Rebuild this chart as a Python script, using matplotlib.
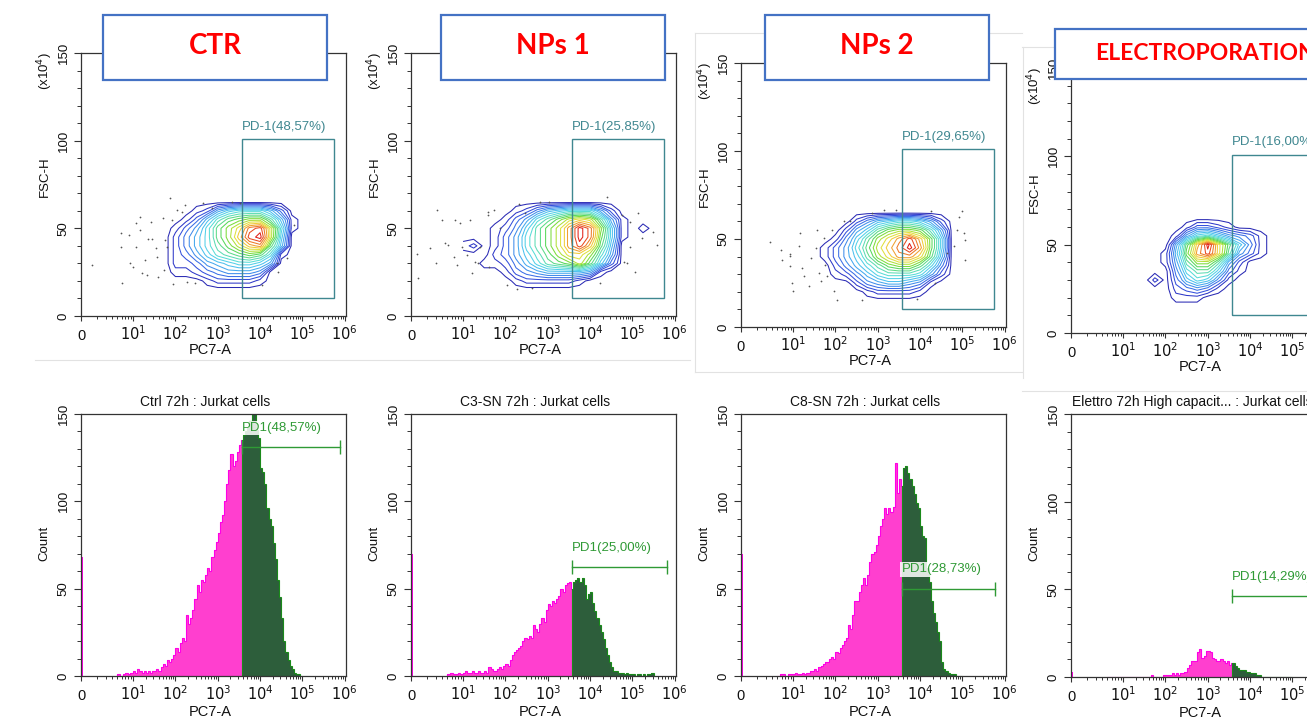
import numpy as np
import matplotlib
matplotlib.use("Agg")
import matplotlib.pyplot as plt
from matplotlib.patches import Rectangle
from matplotlib.lines import Line2D

plt.rcParams['font.family'] = ['Liberation Sans', 'DejaVu Sans']
plt.rcParams['mathtext.fontset'] = 'custom'
plt.rcParams['mathtext.rm'] = 'Liberation Sans Narrow'
plt.rcParams['mathtext.it'] = 'Liberation Sans Narrow:italic'
plt.rcParams['mathtext.bf'] = 'Liberation Sans Narrow:bold'
plt.rcParams['mathtext.default'] = 'rm'
NARROW = ['Liberation Sans Narrow', 'Liberation Sans']

# ---------------------------------------------------------------- data
PANEL_TITLES = ['CTR', 'NPs 1', 'NPs 2', 'ELECTROPORATION']
HIST_TITLES = ['Ctrl 72h : Jurkat cells', 'C3-SN 72h : Jurkat cells',
               'C8-SN 72h : Jurkat cells', 'Elettro 72h High capacit... : Jurkat cells']
DOT_GATE_LABELS = ['PD-1(48,57%)', 'PD-1(25,85%)', 'PD-1(29,65%)', 'PD-1(16,00%)']
HIST_GATE_LABELS = ['PD1(48,57%)', 'PD1(25,00%)', 'PD1(28,73%)', 'PD1(14,29%)']

X_TICK_VALUES = [1, 10, 100, 1e3, 1e4, 1e5, 1e6]
X_TICK_LABELS = ['0', '$10^1$', '$10^2$', '$10^3$', '$10^4$', '$10^5$', '$10^6$']
Y_TICK_VALUES = [0, 50, 100, 150]

# gates
GATE_LO = 3700
DOT_GATE_HI = 5.6e5
DOT_GATE_FSC = [10, 101]
HIST_GATE_HI = [7.6e5, 6.6e5, 5.8e5, 5.8e5]
HIST_GATE_COUNT = [131, 62.5, 50, 46]

# density (contour level read at grid points) : rows = FSC (x10^4), cols = log10(PC7-A)
DENSITY_LOG_PC7 = [1.0, 1.25, 1.5, 1.75, 2.0, 2.25, 2.5, 2.75, 3.0, 3.25,
                   3.5, 3.75, 4.0, 4.25, 4.5, 4.75, 5.0, 5.25, 5.5, 5.75]
DENSITY_FSC = [10, 15, 20, 25, 30, 35, 40, 45, 50, 55, 60, 65, 70]

DENSITY_CTR = [
    [0, 0, 0, 0, 0, 0, 0, 0, 0, 0, 0, 0, 0, 0, 0, 0, 0, 0, 0, 0],
    [0, 0, 0, 0, 0, 0, 0, 0, 0, 0, 0, 0, 0, 0, 0, 0, 0, 0, 0, 0],
    [0, 0, 0, 0, 0, 0, 0, 1, 2, 2, 2, 2, 1, 0, 0, 0, 0, 0, 0, 0],
    [0, 0, 0, 0, 1, 1, 2, 3, 4, 5, 5, 5, 4, 0, 0, 0, 0, 0, 0, 0],
    [0, 0, 0, 0, 2, 2, 3, 5, 6, 7, 8, 8, 7, 5, 0, 0, 0, 0, 0, 0],
    [0, 0, 0, 0, 2, 3, 5, 7, 9, 10, 11, 12, 11, 8, 1, 0, 0, 0, 0, 0],
    [0, 0, 0, 0, 2, 4, 6, 8, 10, 12, 14, 16, 17, 11, 6, 0, 0, 0, 0, 0],
    [0, 0, 0, 0, 2, 4, 6, 8, 11, 13, 16, 19, 20, 14, 7, 0, 0, 0, 0, 0],
    [0, 0, 0, 0, 1, 3, 5, 8, 11, 13, 15, 18, 19, 14, 8, 1, 0, 0, 0, 0],
    [0, 0, 0, 0, 0, 1, 3, 6, 9, 11, 12, 13, 13, 10, 6, 1, 0, 0, 0, 0],
    [0, 0, 0, 0, 0, 0, 1, 2, 5, 7, 8, 8, 8, 6, 3, 0, 0, 0, 0, 0],
    [0, 0, 0, 0, 0, 0, 0, 0, 0, 0, 0, 0, 0, 0, 0, 0, 0, 0, 0, 0],
    [0, 0, 0, 0, 0, 0, 0, 0, 0, 0, 0, 0, 0, 0, 0, 0, 0, 0, 0, 0],
]
DENSITY_NP1 = [
    [0, 0, 0, 0, 0, 0, 0, 0, 0, 0, 0, 0, 0, 0, 0, 0, 0, 0, 0, 0],
    [0, 0, 0, 0, 0, 0, 0, 0, 0, 0, 0, 0, 0, 0, 0, 0, 0, 0, 0, 0],
    [0, 0, 0, 0, 0, 1, 2, 2, 2, 2, 2, 1, 0, 0, 0, 0, 0, 0, 0, 0],
    [0, 0, 0, 0, 1, 3, 4, 5, 6, 6, 6, 6, 5, 1, 0, 0, 0, 0, 0, 0],
    [0, 0, 1, 1, 2, 4, 6, 8, 10, 11, 12, 14, 11, 7, 3, 0, 0, 0, 0, 0],
    [0, 0, 0, 2, 3, 5, 7, 9, 11, 13, 15, 15, 13, 9, 5, 0, 0, 0, 0, 0],
    [1, 2, 0, 1, 3, 5, 8, 10, 12, 14, 17, 19, 16, 11, 6, 0, 0, 0, 0, 0],
    [0, 0, 0, 1, 3, 5, 8, 10, 12, 14, 17, 20, 18, 12, 7, 1, 0, 0, 0, 0],
    [0, 0, 0, 1, 2, 4, 7, 10, 12, 14, 17, 20, 18, 13, 7, 1, 0, 1, 0, 0],
    [0, 0, 0, 0, 1, 3, 5, 8, 10, 12, 14, 15, 14, 10, 5, 1, 0, 0, 0, 0],
    [0, 0, 0, 0, 0, 1, 2, 4, 6, 7, 8, 8, 8, 5, 2, 0, 0, 0, 0, 0],
    [0, 0, 0, 0, 0, 0, 0, 0, 0, 0, 0, 0, 0, 0, 0, 0, 0, 0, 0, 0],
    [0, 0, 0, 0, 0, 0, 0, 0, 0, 0, 0, 0, 0, 0, 0, 0, 0, 0, 0, 0],
]
DENSITY_NP2 = [
    [0, 0, 0, 0, 0, 0, 0, 0, 0, 0, 0, 0, 0, 0, 0, 0, 0, 0, 0, 0],
    [0, 0, 0, 0, 0, 0, 0, 0, 0, 0, 0, 0, 0, 0, 0, 0, 0, 0, 0, 0],
    [0, 0, 0, 0, 0, 0, 0, 1, 2, 2, 2, 2, 1, 0, 0, 0, 0, 0, 0, 0],
    [0, 0, 0, 0, 0, 0, 2, 4, 5, 6, 6, 5, 4, 1, 0, 0, 0, 0, 0, 0],
    [0, 0, 0, 0, 1, 2, 4, 6, 8, 9, 9, 9, 8, 5, 2, 0, 0, 0, 0, 0],
    [0, 0, 0, 0, 2, 4, 6, 8, 10, 12, 13, 13, 11, 8, 4, 0, 0, 0, 0, 0],
    [0, 0, 0, 1, 3, 5, 7, 10, 13, 15, 17, 17, 15, 11, 6, 0, 0, 0, 0, 0],
    [0, 0, 0, 1, 3, 5, 8, 11, 14, 16, 18, 20, 17, 12, 7, 0, 0, 0, 0, 0],
    [0, 0, 0, 0, 1, 4, 7, 10, 13, 15, 17, 19, 16, 12, 7, 0, 0, 0, 0, 0],
    [0, 0, 0, 0, 0, 2, 5, 7, 10, 12, 13, 13, 12, 9, 5, 0, 0, 0, 0, 0],
    [0, 0, 0, 0, 0, 0, 2, 4, 6, 7, 8, 8, 7, 5, 2, 0, 0, 0, 0, 0],
    [0, 0, 0, 0, 0, 0, 0, 0, 0, 0, 0, 0, 0, 0, 0, 0, 0, 0, 0, 0],
    [0, 0, 0, 0, 0, 0, 0, 0, 0, 0, 0, 0, 0, 0, 0, 0, 0, 0, 0, 0],
]
DENSITY_EL = [
    [0, 0, 0, 0, 0, 0, 0, 0, 0, 0, 0, 0, 0, 0, 0, 0, 0, 0, 0, 0],
    [0, 0, 0, 0, 0, 0, 0, 0, 0, 0, 0, 0, 0, 0, 0, 0, 0, 0, 0, 0],
    [0, 0, 0, 0, 0, 1, 1, 1, 0, 0, 0, 0, 0, 0, 0, 0, 0, 0, 0, 0],
    [0, 0, 0, 0, 0, 2, 3, 4, 3, 1, 0, 0, 0, 0, 0, 0, 0, 0, 0, 0],
    [0, 0, 0, 2, 0, 3, 6, 8, 7, 4, 1, 0, 0, 0, 0, 0, 0, 0, 0, 0],
    [0, 0, 0, 0, 0, 4, 8, 10, 10, 7, 3, 1, 0, 0, 0, 0, 0, 0, 0, 0],
    [0, 0, 0, 0, 1, 5, 10, 13, 13, 10, 5, 2, 0, 0, 0, 0, 0, 0, 0, 0],
    [0, 0, 0, 0, 1, 6, 12, 17, 19, 15, 10, 5, 3, 1, 0, 0, 0, 0, 0, 0],
    [0, 0, 0, 0, 0, 5, 11, 16, 20, 15, 11, 7, 4, 1, 0, 0, 0, 0, 0, 0],
    [0, 0, 0, 0, 0, 1, 5, 8, 9, 7, 5, 4, 3, 1, 0, 0, 0, 0, 0, 0],
    [0, 0, 0, 0, 0, 0, 1, 3, 3, 2, 1, 0, 0, 0, 0, 0, 0, 0, 0, 0],
    [0, 0, 0, 0, 0, 0, 0, 0, 0, 0, 0, 0, 0, 0, 0, 0, 0, 0, 0, 0],
    [0, 0, 0, 0, 0, 0, 0, 0, 0, 0, 0, 0, 0, 0, 0, 0, 0, 0, 0, 0],
]

# single events outside the contours: log10(PC7-A) and FSC-H (x10^4)
DOTS_CTR_LOGX = [0.21, 0.76, 0.76, 0.78, 0.93, 0.94, 1.01, 1.07, 1.07, 1.17, 1.17, 1.21,
                 1.28, 1.32, 1.36, 1.42, 1.44, 1.54, 1.56, 1.60, 1.70, 1.72, 1.76, 1.80,
                 1.87, 1.91, 1.95, 2.03, 2.15, 2.23, 2.27, 2.47, 2.66, 2.86, 3.33, 3.53,
                 4.04, 4.40, 4.43, 4.63, 4.79]
DOTS_CTR_FSC = [29.1, 47.2, 39.5, 19.0, 46.2, 30.1, 28.1, 39.5, 52.9, 56.6, 49.1, 24.3,
                31.9, 23.4, 43.9, 53.6, 43.7, 38.6, 33.8, 22.4, 55.7, 26.2, 43.4, 39.5,
                67.1, 54.8, 18.3, 60.5, 59.5, 63.3, 19.6, 18.6, 64.3, 61.4, 65.2, 64.3,
                17.7, 30.1, 25.3, 32.9, 51.9]
DOTS_NP1_LOGX = [0.14, 0.11, 0.37, 0.49, 0.48, 0.59, 0.65, 0.72, 0.83, 0.85, 0.88, 0.94,
                 0.97, 1.09, 1.17, 1.21, 1.28, 1.36, 1.39, 1.60, 1.60, 1.62, 1.72, 1.87,
                 2.03, 2.27, 2.31, 2.47, 2.62, 2.82, 3.02, 4.24, 4.40, 4.75, 4.79, 4.87,
                 4.95, 4.95, 5.07, 5.14, 5.22, 5.49, 5.57]
DOTS_NP1_FSC = [21.5, 35.4, 38.6, 60.5, 30.0, 54.8, 41.5, 40.5, 33.8, 54.8, 29.1, 52.9,
                39.5, 34.8, 54.8, 24.3, 31.0, 30.0, 39.5, 59.5, 57.6, 28.1, 60.5, 50.0,
                17.7, 15.6, 63.9, 58.6, 15.8, 65.2, 65.2, 18.6, 68.1, 57.6, 31.0, 30.0,
                53.8, 39.5, 25.3, 58.6, 44.3, 48.1, 40.5]
DOTS_NP2_LOGX = [0.56, 0.76, 0.79, 0.95, 0.95, 0.95, 0.98, 1.01, 1.13, 1.17, 1.21, 1.25,
                 1.37, 1.43, 1.53, 1.57, 1.61, 1.65, 1.72, 1.76, 1.80, 1.92, 1.96, 2.04,
                 2.20, 2.35, 2.63, 2.87, 3.14, 3.42, 3.93, 4.25, 4.36, 4.64, 4.80, 4.88,
                 4.91, 5.00, 5.03, 5.07, 5.07]
DOTS_NP2_FSC = [48.1, 43.5, 38.2, 41.6, 40.1, 34.4, 25.0, 20.2, 45.8, 53.4, 33.5, 28.8,
                23.1, 39.2, 44.9, 55.3, 30.7, 25.9, 50.6, 35.4, 28.8, 55.3, 20.2, 15.5,
                60.0, 60.0, 15.5, 64.8, 66.3, 66.3, 16.1, 65.7, 25.0, 42.0, 45.8, 55.3,
                62.5, 65.7, 53.4, 49.6, 38.2]
DOTS_EL_LOGX = []
DOTS_EL_FSC = []

# histograms: counts in bins of 0.05 decade starting at 10^0.7
HIST_LOG_START = 0.7
HIST_LOG_STEP = 0.05
HIST_CTR = [1, 0, 1, 2, 1, 2,
            3, 2, 4, 3, 2, 3, 2, 3, 2, 3,
            3, 4, 3, 5, 7, 6, 9, 8, 10, 12,
            16, 14, 19, 22, 20, 35, 30, 33, 38, 44,
            52, 48, 55, 54, 58, 62, 60, 68, 72, 77,
            82, 88, 92, 100, 110, 118, 127, 120, 123, 128, 132, 135,
            138, 140, 142, 146, 152, 155, 141, 136,
            119, 117, 110, 96, 90, 86, 76, 67, 55, 45,
            33, 20, 14, 9, 6, 4, 2, 1, 1, 0]
HIST_NP1 = [1, 2, 1, 1, 2, 1,
            2, 3, 2, 2, 3, 2, 2, 3, 2, 2,
            3, 2, 5, 4, 3, 3, 4, 5, 4, 6,
            7, 6, 9, 12, 14, 15, 16, 17, 20, 22,
            21, 23, 22, 29, 27, 25, 30, 33, 31, 38,
            41, 40, 43, 42, 44, 46, 50, 48, 52, 53, 54, 50,
            54, 55, 56, 54, 56, 52, 44, 47,
            48, 42, 37, 33, 29, 25, 21, 16, 12, 8,
            5, 3, 3, 2, 2, 2, 1, 2, 1, 1,
            1, 0, 1, 1, 0, 1, 0, 1, 1, 2]
HIST_NP2 = [0, 1, 1, 0, 1, 1,
            1, 2, 1, 1, 2, 1, 2, 2, 3, 3,
            4, 3, 5, 6, 7, 8, 8, 10, 11, 10,
            14, 13, 16, 18, 20, 22, 29, 27, 35, 43,
            43, 48, 52, 56, 52, 58, 65, 70, 71, 75,
            80, 86, 90, 96, 93, 96, 94, 97, 122, 105, 113, 109,
            119, 120, 116, 113, 109, 104, 99, 96,
            86, 80, 79, 62, 54, 43, 36, 31, 25, 20,
            8, 4, 3, 2, 1, 1, 1, 0, 0, 0]
HIST_EL = [0, 0, 0, 0, 0, 0,
           0, 0, 0, 0, 0, 0, 0, 0, 0, 0,
           0, 0, 0, 1, 0, 0, 0, 0, 0, 1,
           1, 1, 1, 2, 1, 2, 1, 2, 2, 3,
           5, 7, 9, 9, 9, 14, 16, 11, 12, 15,
           15, 14, 11, 10, 9, 9, 10, 9, 8, 9, 7, 8,
           8, 6, 5, 4, 4, 4, 3, 3,
           2, 2, 2, 1, 1, 0, 0, 0, 0, 0,
           0, 0, 0, 0, 0, 0, 0, 0, 0, 0]
ZERO_COUNTS = [68, 70, 70, 3]

DENSITIES = [DENSITY_CTR, DENSITY_NP1, DENSITY_NP2, DENSITY_EL]
DOTS = [(DOTS_CTR_LOGX, DOTS_CTR_FSC), (DOTS_NP1_LOGX, DOTS_NP1_FSC),
        (DOTS_NP2_LOGX, DOTS_NP2_FSC), (DOTS_EL_LOGX, DOTS_EL_FSC)]
HISTS = [HIST_CTR, HIST_NP1, HIST_NP2, HIST_EL]

# ---------------------------------------------------------------- style / layout
W, H = 1307, 718
TOP_AX = [(81, 53, 346, 316), (411, 53, 676, 316), (741, 63, 1006, 327), (1071, 68, 1336, 333)]
BOT_AX = [(81, 414, 346, 676), (411, 414, 676, 676), (741, 414, 1006, 676), (1071, 414, 1336, 677)]
BOXES = [(103, 15, 327, 80), (441, 15, 665, 80), (765, 15, 989, 80), (1055, 29, 1330, 79)]
CONTOUR_COLORS = ['#2a2ab4', '#2e38c8', '#3450dc', '#3a6ee6', '#3f8ceb', '#45a8ee', '#4cc0ee',
                  '#52d0e8', '#58dcd6', '#5cdcb4', '#5cda88', '#58d85a', '#7cdc3c', '#b0e03a',
                  '#e0e03e', '#f0cc38', '#f0a030', '#ec7a28', '#e84a20', '#e02018']
PINK_FILL, PINK_EDGE = '#ff3fcf', '#ff00e6'
GREEN_FILL, GREEN_EDGE = '#2d5e3b', '#1a8a1a'
GATE_GREEN = '#2f9a35'
TEAL = '#3f8790'
AX_COLOR = '#333333'

K0 = 1.23  # width of the first ("0" .. 10^1) decade relative to the others


def fwd(x):
    x = np.asarray(x, dtype=float)
    t = np.log10(np.maximum(x, 1.0))
    return np.where(t < 1.0, t * K0, t - 1.0 + K0)


def inv(p):
    p = np.asarray(p, dtype=float)
    return np.where(p < K0, 10.0 ** (p / K0), 10.0 ** (p - K0 + 1.0))


X_MINOR = [m * 10.0 ** k for k in range(0, 6) for m in range(2, 10)]

fig = plt.figure(figsize=(W / 100, H / 100), dpi=100)


def add_ax(box):
    l, t, r, b = box
    return fig.add_axes([l / W, 1 - b / H, (r - l) / W, (b - t) / H])


def style(ax):
    ax.set_xscale('function', functions=(fwd, inv))
    ax.set_xlim(1, 10 ** 6.03)
    ax.set_ylim(0, 150)
    ax.set_xticks(X_TICK_VALUES, X_TICK_LABELS, fontsize=10.5, family=NARROW, va='baseline')
    ax.set_xticks(X_MINOR, minor=True)
    ax.set_yticks(Y_TICK_VALUES, [str(v) for v in Y_TICK_VALUES], rotation=90,
                  va='center', fontsize=9.5)
    ax.set_yticks(range(0, 151, 10), minor=True)
    ax.tick_params(axis='x', which='major', length=3.5, width=0.8, pad=14, colors=AX_COLOR,
                   labelcolor='#111111')
    ax.tick_params(axis='x', which='minor', length=2.2, width=0.7, colors=AX_COLOR)
    ax.tick_params(axis='y', which='major', length=5, width=0.8, pad=3, colors=AX_COLOR,
                   labelcolor='#111111')
    ax.tick_params(axis='y', which='minor', length=3, width=0.7, colors=AX_COLOR)
    for s in ax.spines.values():
        s.set_color(AX_COLOR)
        s.set_linewidth(0.9)
    ax.set_facecolor('white')


grid_x = 10 ** np.array(DENSITY_LOG_PC7)
grid_y = np.array(DENSITY_FSC)
levels = np.arange(0.5, 20.0, 1.0)

# ---------------- top row: contour plots
for i in range(4):
    ax = add_ax(TOP_AX[i])
    style(ax)
    Z = np.array(DENSITIES[i], dtype=float)
    ax.contour(grid_x, grid_y, Z, levels=levels, colors=CONTOUR_COLORS, linewidths=0.75)
    dx, dy = DOTS[i]
    if len(dx):
        ax.scatter(10 ** np.array(dx), dy, s=1.6, color='#555555', linewidths=0, zorder=3)
    ax.add_patch(Rectangle((GATE_LO, DOT_GATE_FSC[0]), DOT_GATE_HI - GATE_LO,
                           DOT_GATE_FSC[1] - DOT_GATE_FSC[0], fill=False,
                           edgecolor=TEAL, lw=1.0, zorder=4))
    ax.text(GATE_LO, DOT_GATE_FSC[1] + 7, DOT_GATE_LABELS[i], color=TEAL, fontsize=9.5,
            ha='left', va='center', zorder=5)
    ax.text(-0.136, 0.53, 'FSC-H', rotation=90, transform=ax.transAxes, fontsize=9.5,
            ha='center', va='center', color='#111111')
    ax.text(-0.136, 0.93, '(x10$^4$)', rotation=90, transform=ax.transAxes, fontsize=9.5,
            ha='center', va='center', color='#111111')
    ax.text(0.487, -0.13, 'PC7-A', transform=ax.transAxes, fontsize=10.5, family=NARROW,
            ha='center', va='center', color='#111111')

# ---------------- bottom row: histograms
for i in range(4):
    ax = add_ax(BOT_AX[i])
    style(ax)
    counts = np.array(HISTS[i], dtype=float)
    edges = 10 ** (HIST_LOG_START + HIST_LOG_STEP * np.arange(len(counts) + 1))
    k = int(np.searchsorted(edges, GATE_LO))
    pink_edges = np.append(edges[:k], GATE_LO)
    green_edges = np.insert(edges[k:], 0, GATE_LO)
    pink_counts = counts[:k]
    green_counts = counts[k - 1:]
    ax.stairs(pink_counts, pink_edges, fill=True, color=PINK_FILL, lw=0, zorder=2)
    ax.stairs(pink_counts, pink_edges, color=PINK_EDGE, lw=0.8, zorder=2)
    ax.stairs(green_counts, green_edges, fill=True, color=GREEN_FILL, lw=0, zorder=2)
    ax.stairs(green_counts, green_edges, color=GREEN_EDGE, lw=0.8, zorder=2)
    ax.stairs([ZERO_COUNTS[i]], [1.0, 1.1], fill=True, color=PINK_EDGE, lw=0, zorder=2)

    gy = HIST_GATE_COUNT[i]
    ax.plot([GATE_LO, HIST_GATE_HI[i]], [gy, gy], color=GATE_GREEN, lw=1.0, zorder=3)
    ax.vlines([GATE_LO, HIST_GATE_HI[i]], gy - 4, gy + 4, color=GATE_GREEN, lw=1.0, zorder=3)
    ax.text(GATE_LO, gy + 11, HIST_GATE_LABELS[i], color=GATE_GREEN, fontsize=9.5,
            ha='left', va='center', zorder=4,
            bbox=dict(facecolor='white', alpha=0.85, edgecolor='none', pad=1.0))
    if i < 3:
        ax.text(0.468, 1.047, HIST_TITLES[i], transform=ax.transAxes, fontsize=10,
                ha='center', va='center', color='#111111')
    else:
        ax.text(0.005, 1.047, HIST_TITLES[i], transform=ax.transAxes, fontsize=10,
                ha='left', va='center', color='#111111')
    ax.text(-0.14, 0.508, 'Count', rotation=90, transform=ax.transAxes, fontsize=9.5,
            ha='center', va='center', color='#111111')
    ax.text(0.487, -0.137, 'PC7-A', transform=ax.transAxes, fontsize=10.5, family=NARROW,
            ha='center', va='center', color='#111111')

# ---------------- faint screenshot frames
FRAME_COLOR = '#e2e2e2'
for (x1, y1, x2, y2) in [(35, 360, 690, 360), (695, 33, 1022, 33), (695, 33, 695, 372),
                         (695, 372, 1022, 372), (1022, 47, 1307, 47), (1023, 47, 1023, 378),
                         (1022, 391, 1307, 391)]:
    fig.add_artist(Line2D([x1 / W, x2 / W], [1 - y1 / H, 1 - y2 / H],
                          transform=fig.transFigure, color=FRAME_COLOR, lw=0.8, zorder=0.5))

# ---------------- condition boxes
for i, (x1, y1, x2, y2) in enumerate(BOXES):
    fig.add_artist(Rectangle((x1 / W, 1 - y2 / H), (x2 - x1) / W, (y2 - y1) / H,
                             transform=fig.transFigure, facecolor='white',
                             edgecolor='#4472c4', lw=1.6, zorder=10))
    if i < 3:
        fig.text((x1 + x2) / 2 / W, 1 - 46 / H, PANEL_TITLES[i], color='#ff0000',
                 fontsize=20, fontweight='bold', family=['Lato', 'DejaVu Sans'],
                 ha='center', va='center', zorder=11)
    else:
        fig.text(1095 / W, 1 - 54 / H, PANEL_TITLES[i], color='#ff0000',
                 fontsize=16.5, fontweight='bold', family=['Lato', 'DejaVu Sans'],
                 ha='left', va='center', zorder=11)

fig.savefig('out.png', dpi=100, facecolor='white')
